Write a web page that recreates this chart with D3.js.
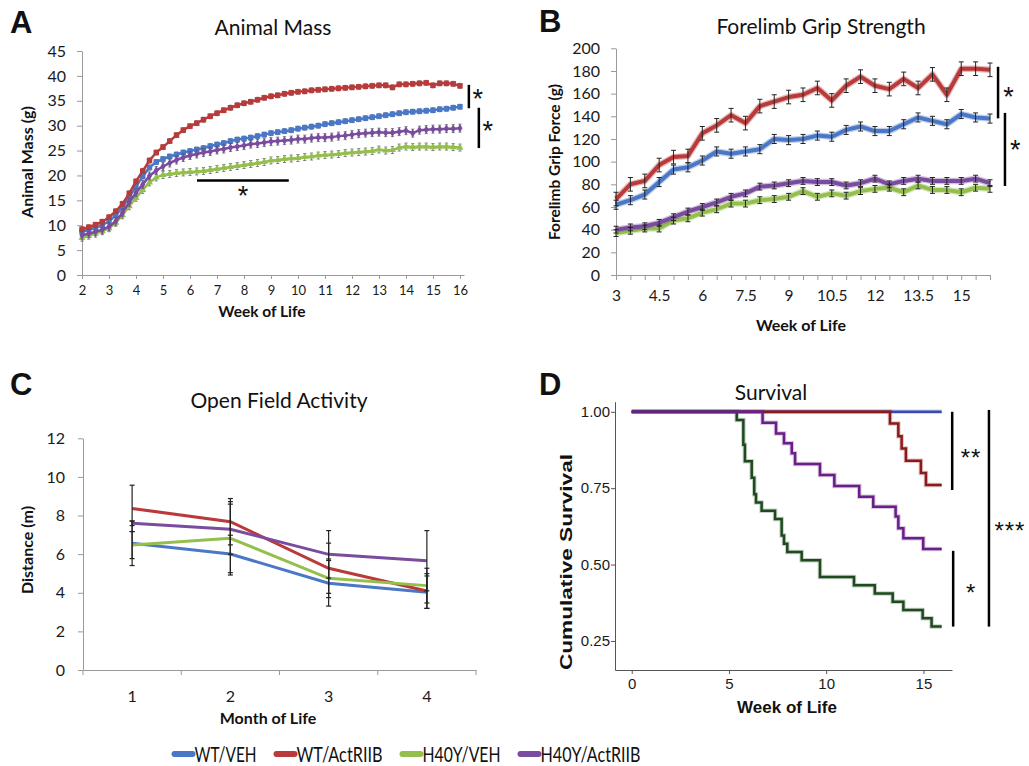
<!DOCTYPE html>
<html><head><meta charset="utf-8">
<script src="https://cdn.jsdelivr.net/npm/d3@7"></script>
<style>
body{margin:0;background:#fff;}
svg{display:block;}
</style></head><body>
<svg id="c" width="1029" height="766"></svg>
<script>
// ---------------- DATA ----------------
const seriesNames = ["WT/VEH", "WT/ActRIIB", "H40Y/VEH", "H40Y/ActRIIB"];
const seriesColors = ["#4A78C6", "#B93A3A", "#95BF4D", "#7A4C9F"];

// Panel A: Animal Mass (g), weeks 2..16 every 0.25 week
const weeksA = d3.range(2, 16.001, 0.25);
const massBlue = [8.7,9.1,9.5,10.0,10.8,12.0,13.6,15.6,17.8,19.8,21.6,22.7,23.3,23.8,24.2,24.6,24.9,25.2,25.5,25.9,26.2,26.5,26.9,27.2,27.4,27.6,27.9,28.2,28.5,28.7,28.9,29.1,29.4,29.6,29.8,30.0,30.3,30.5,30.7,30.9,31.1,31.3,31.5,31.7,31.9,32.1,32.3,32.5,32.7,32.8,32.9,33.0,33.1,33.3,33.4,33.6,33.8];
const massRed = [9.2,9.6,10.1,10.7,11.6,12.8,14.3,16.4,18.8,20.9,23.0,24.6,25.7,26.9,28.1,29.1,29.9,30.5,31.2,31.9,32.5,33.1,33.6,34.1,34.5,34.8,35.2,35.6,35.9,36.1,36.4,36.6,36.8,36.9,37.1,37.2,37.3,37.4,37.5,37.6,37.7,37.8,37.9,38.0,38.1,38.1,37.7,38.3,38.3,38.4,38.5,38.6,38.1,38.5,38.5,38.4,38.0];
const massGreen = [7.5,7.9,8.3,8.8,9.4,10.5,12.0,13.8,15.5,17.1,18.6,19.6,20.1,20.3,20.5,20.6,20.7,20.8,20.9,21.1,21.3,21.5,21.7,21.9,22.1,22.3,22.5,22.7,23.0,23.1,23.3,23.4,23.5,23.7,23.8,24.0,24.1,24.2,24.3,24.5,24.6,24.7,24.8,24.9,25.2,25.0,25.1,25.6,25.8,25.7,25.8,25.8,25.7,25.8,25.8,25.7,25.6];
const massPurple = [8.0,8.3,8.7,9.1,9.7,10.8,12.5,14.6,16.5,18.2,19.9,21.0,21.8,22.5,23.1,23.6,24.0,24.3,24.6,24.8,25.1,25.3,25.6,25.8,26.0,26.3,26.4,26.6,26.8,26.9,27.0,27.1,27.3,27.3,27.5,27.6,27.6,27.7,27.9,28.0,28.2,28.4,28.5,28.6,28.7,28.6,28.6,28.8,29.0,28.5,29.1,29.2,29.3,29.3,29.4,29.4,29.5];
const massErr = [0.5, 0.5, 0.7, 0.8];
const ticksA_x = [2,3,4,5,6,7,8,9,10,11,12,13,14,15,16];
const ticksA_y = [0,5,10,15,20,25,30,35,40,45];

// Panel B: Forelimb Grip Force (g), weeks 3..16 every 0.5
const weeksB = [3,3.5,4,4.5,5,5.5,6,6.5,7,7.5,8,8.5,9,9.5,10,10.5,11,11.5,12,12.5,13,13.5,14,14.5,15,15.5,16];
const gripBlue = [62,66,71,82,93,95,101,109,107,109,111,120,119,120,123,122,128,131,127,127,133,139,136,133,142,139,138];
const gripRed = [67,80,83,97,104,105,125,132,141,134,149,153,157,159,165,154,167,175,167,164,173,165,177,159,182,182,181];
const gripGreen = [37,39,41,41,48,50,55,58,63,63,66,67,69,74,69,72,70,74,76,77,73,79,75,75,73,77,76];
const gripPurple = [40,42,43,46,51,56,60,64,69,72,78,79,81,83,82,82,79,81,85,80,83,85,83,83,83,85,81];
const gripErr = [4, 6, 3, 3];
const ticksB_label = [3,4.5,6,7.5,9,10.5,12,13.5,15];
const ticksB_y = [0,20,40,60,80,100,120,140,160,180,200];

// Panel C: Open Field Activity, distance (m) per month
const months = [1,2,3,4];
const distBlue = [6.56,6.01,4.49,4.03];
const distRed = [8.37,7.68,5.27,4.09];
const distGreen = [6.47,6.82,4.75,4.37];
const distPurple = [7.60,7.29,5.99,5.66];
const distErrBlue = [1.15,0.97,1.18,0.84];
const distErrRed = [1.20,1.20,1.30,0.90];
const distErrGreen = [0.70,1.90,1.00,0.90];
const distErrPurple = [0.12,1.30,1.23,1.56];
const ticksC_y = [0,2,4,6,8,10,12];

// Panel D: Survival (Kaplan-Meier)
const survTimesBlue = [0,15.94];
const survBlue = [1,1];
const survTimesRed = [0,13.28,13.71,13.88,14.10,14.87,15.13,15.94];
const survRed = [1,0.962,0.92,0.88,0.84,0.80,0.76,0.76];
const survTimesGreen = [0,5.40,5.74,5.82,6.17,6.30,6.39,6.68,7.37,7.71,7.83,8.00,8.74,9.68,11.43,12.50,13.42,13.97,14.96,15.42,15.94];
const survGreen = [1,0.973,0.892,0.838,0.784,0.730,0.703,0.676,0.649,0.595,0.568,0.541,0.514,0.459,0.432,0.405,0.378,0.351,0.324,0.297,0.297];
const survTimesPurple = [0,6.73,7.42,7.83,8.23,8.40,9.68,10.42,11.70,12.42,13.57,13.71,13.97,14.99,15.94];
const survPurple = [1,0.964,0.929,0.897,0.864,0.829,0.793,0.757,0.722,0.689,0.657,0.619,0.586,0.551,0.551];
const survColors = ["#3B4BB0", "#8B1A1A", "#1F4A1F", "#6A1E88"];
const ticksD_x = [0,5,10,15];
const ticksD_y = [0.25,0.50,0.75,1.00];

// ---------------- DRAW ----------------
const svg = d3.select("#c");
const FONT = "Lato, 'Open Sans', sans-serif";
const ARIAL = "'Liberation Sans', Arial, sans-serif";
const AX = "#9a9a9a";

function styleAxis(g, color, fam, size) {
  g.select(".domain").attr("stroke", color).attr("stroke-width", 1);
  g.selectAll(".tick line").attr("stroke", color);
  g.selectAll(".tick text").attr("fill", "#1a1a1a").style("font-family", fam).style("font-size", size + "px");
}
function txt(x, y, s, opts) {
  const t = svg.append("text").attr("x", x).attr("y", y).text(s)
    .style("font-family", opts.fam || FONT).style("font-size", (opts.size || 16) + "px")
    .style("font-weight", opts.bold ? "bold" : "normal")
    .attr("text-anchor", opts.anchor || "middle").attr("fill", opts.fill || "#111");
  if (opts.rot) t.attr("transform", `rotate(-90,${x},${y})`);
  if (opts.len) t.attr("textLength", opts.len).attr("lengthAdjust", "spacingAndGlyphs");
  if (opts.ls) t.style("letter-spacing", opts.ls + "px");
  return t;
}

// panel letters
txt(10, 33, "A", {fam: ARIAL, size: 31, bold: true, anchor: "start"});
txt(539, 32, "B", {fam: ARIAL, size: 31, bold: true, anchor: "start"});
txt(10, 395, "C", {fam: ARIAL, size: 31, bold: true, anchor: "start"});
txt(539, 395, "D", {fam: ARIAL, size: 31, bold: true, anchor: "start"});

// ===== Panel A =====
{
  const x = d3.scaleLinear().domain([2, 16.15]).range([82, 464]);
  const y = d3.scaleLinear().domain([0, 45]).range([275, 51]);
  svg.append("g").attr("transform", "translate(0,275)")
    .call(d3.axisBottom(x).tickValues(ticksA_x).tickSize(4).tickSizeOuter(0).tickPadding(7).tickFormat(d3.format("d")))
    .call(styleAxis, AX, FONT, 13);
  svg.append("g").attr("transform", "translate(82,0)")
    .call(d3.axisLeft(y).tickValues(ticksA_y).tickSize(5).tickSizeOuter(0).tickPadding(11))
    .call(styleAxis, AX, FONT, 16);
  txt(273, 35, "Animal Mass", {size: 21});
  txt(33, 162, "Animal Mass (g)", {size: 16, bold: true, rot: true});
  txt(262, 317, "Week of Life", {size: 15.5, bold: true});

  const series = [
    {v: massBlue, c: seriesColors[0], sym: d3.symbolSquare, s: 30, e: massErr[0]},
    {v: massRed, c: seriesColors[1], sym: d3.symbolSquare, s: 30, e: massErr[1]},
    {v: massGreen, c: seriesColors[2], sym: d3.symbolTriangle, s: 22, e: massErr[2]},
    {v: massPurple, c: seriesColors[3], sym: d3.symbolDiamond, s: 22, e: massErr[3]},
  ];
  const line = d3.line().x((d, i) => x(weeksA[i])).y(d => y(d));
  series.forEach(sr => {
    const g = svg.append("g");
    const eb = g.selectAll(".eb").data(sr.v).enter().append("g");
    eb.append("line").attr("x1", (d, i) => x(weeksA[i])).attr("x2", (d, i) => x(weeksA[i]))
      .attr("y1", d => y(d - sr.e)).attr("y2", d => y(d + sr.e)).attr("stroke", "#555").attr("stroke-width", 0.7);
    [-1, 1].forEach(k => eb.append("line").attr("x1", (d, i) => x(weeksA[i]) - 1.6).attr("x2", (d, i) => x(weeksA[i]) + 1.6)
      .attr("y1", d => y(d + k * sr.e)).attr("y2", d => y(d + k * sr.e)).attr("stroke", "#555").attr("stroke-width", 0.7));
    g.append("path").datum(sr.v).attr("d", line).attr("fill", "none").attr("stroke", sr.c).attr("stroke-width", 2.5);
    g.selectAll(".m").data(sr.v).enter().append("path")
      .attr("transform", (d, i) => `translate(${x(weeksA[i])},${y(d)})`)
      .attr("d", d3.symbol().type(sr.sym).size(sr.s)).attr("fill", sr.c);
  });
  const sig = [{x: 16.33, y0: 38.2, y1: 33.5, lx: 16.66, ly: 35.9}, {x: 16.7, y0: 33.6, y1: 25.5, lx: 17.03, ly: 29.6}];
  sig.forEach(s => {
    svg.append("line").attr("x1", x(s.x)).attr("x2", x(s.x)).attr("y1", y(s.y0)).attr("y2", y(s.y1)).attr("stroke", "#000").attr("stroke-width", 2.5);
    txt(x(s.lx), y(s.ly) + 12, "*", {fam: ARIAL, size: 27});
  });
  svg.append("line").attr("x1", x(6.26)).attr("x2", x(9.66)).attr("y1", y(19)).attr("y2", y(19)).attr("stroke", "#000").attr("stroke-width", 2.5);
  txt(x(7.96), y(16.5) + 12, "*", {fam: ARIAL, size: 27});
}

// ===== Panel B =====
{
  const x = d3.scaleLinear().domain([3, 16]).range([616, 990]);
  const y = d3.scaleLinear().domain([0, 200]).range([275, 48.3]);
  svg.append("g").attr("transform", "translate(0,275)")
    .call(d3.axisBottom(x).tickValues(weeksB).tickSize(5).tickSizeOuter(0).tickPadding(10)
      .tickFormat(d => ticksB_label.includes(d) ? d3.format("")(d) : ""))
    .call(styleAxis, AX, FONT, 15.5);
  svg.append("g").attr("transform", "translate(616,0)")
    .call(d3.axisLeft(y).tickValues(ticksB_y).tickSize(5).tickSizeOuter(0).tickPadding(11))
    .call(styleAxis, AX, FONT, 16);
  txt(821, 34, "Forelimb Grip Strength", {size: 21});
  txt(560, 162, "Forelimb Grip Force (g)", {size: 15.5, bold: true, rot: true});
  txt(801, 331, "Week of Life", {size: 16, bold: true});

  const series = [gripBlue, gripRed, gripGreen, gripPurple];
  const line = d3.line().x((d, i) => x(weeksB[i])).y(d => y(d));
  series.forEach((v, si) => {
    svg.append("path").datum(v).attr("d", line).attr("fill", "none").attr("stroke", seriesColors[si])
      .attr("stroke-opacity", 0.35).attr("stroke-width", 6.5).attr("stroke-linejoin", "round");
    svg.append("path").datum(v).attr("d", line).attr("fill", "none").attr("stroke", seriesColors[si])
      .attr("stroke-width", 4).attr("stroke-linejoin", "round");
  });
  series.forEach((v, si) => {
    const e = gripErr[si];
    const g = svg.append("g");
    const eb = g.selectAll("g").data(v).enter().append("g");
    eb.append("line").attr("x1", (d, i) => x(weeksB[i])).attr("x2", (d, i) => x(weeksB[i]))
      .attr("y1", d => y(d - e)).attr("y2", d => y(d + e)).attr("stroke", "#222").attr("stroke-width", 1);
    [-1, 1].forEach(k => eb.append("line").attr("x1", (d, i) => x(weeksB[i]) - 2.5).attr("x2", (d, i) => x(weeksB[i]) + 2.5)
      .attr("y1", d => y(d + k * e)).attr("y2", d => y(d + k * e)).attr("stroke", "#222").attr("stroke-width", 1));
  });
  const sig = [{x: 16.28, y0: 183.7, y1: 138.2, lx: 16.64, ly: 160}, {x: 16.52, y0: 143, y1: 78.5, lx: 16.88, ly: 113}];
  sig.forEach(s => {
    svg.append("line").attr("x1", x(s.x)).attr("x2", x(s.x)).attr("y1", y(s.y0)).attr("y2", y(s.y1)).attr("stroke", "#000").attr("stroke-width", 2.5);
    txt(x(s.lx), y(s.ly) + 12, "*", {fam: ARIAL, size: 27});
  });
}

// ===== Panel C =====
{
  const x = d3.scaleBand().domain(months).range([83, 476]);
  const y = d3.scaleLinear().domain([0, 12]).range([670, 438.3]);
  const cx = m => x(m) + x.bandwidth() / 2;
  const gx = svg.append("g").attr("transform", "translate(0,670)")
    .call(d3.axisBottom(x).tickSize(0).tickPadding(21).tickSizeOuter(0))
    .call(styleAxis, AX, FONT, 16);
  const bounds = months.map(m => x(m)).concat([x.range()[1]]);
  gx.selectAll(".bt").data(bounds).enter().append("line").attr("x1", d => d).attr("x2", d => d)
    .attr("y1", 0).attr("y2", 5).attr("stroke", AX);
  svg.append("g").attr("transform", "translate(83,0)")
    .call(d3.axisLeft(y).tickValues(ticksC_y).tickSize(5).tickSizeOuter(0).tickPadding(13))
    .call(styleAxis, AX, FONT, 16);
  txt(279, 408, "Open Field Activity", {size: 21});
  txt(33, 550, "Distance (m)", {size: 16, bold: true, rot: true});
  txt(268, 724, "Month of Life", {size: 16, bold: true});

  const series = [distBlue, distRed, distGreen, distPurple];
  const errs = [distErrBlue, distErrRed, distErrGreen, distErrPurple];
  const line = d3.line().x((d, i) => cx(months[i])).y(d => y(d));
  series.forEach((v, si) => {
    svg.append("path").datum(v).attr("d", line).attr("fill", "none").attr("stroke", seriesColors[si]).attr("stroke-width", 3);
  });
  series.forEach((v, si) => {
    const e = errs[si];
    v.forEach((d, i) => {
      const xx = cx(months[i]);
      svg.append("line").attr("x1", xx).attr("x2", xx).attr("y1", y(d - e[i])).attr("y2", y(d + e[i])).attr("stroke", "#222").attr("stroke-width", 1.2);
      [-1, 1].forEach(k => svg.append("line").attr("x1", xx - 2.5).attr("x2", xx + 2.5)
        .attr("y1", y(d + k * e[i])).attr("y2", y(d + k * e[i])).attr("stroke", "#222").attr("stroke-width", 1.2));
    });
  });
}

// ===== Panel D =====
{
  const x = d3.scaleLinear().domain([-0.86, 16.47]).range([615, 952]);
  const y = d3.scaleLinear().domain([0.155, 1.033]).range([670, 401.7]);
  svg.append("g").attr("transform", "translate(0,670)")
    .call(d3.axisBottom(x).tickValues(ticksD_x).tickSize(4).tickSizeOuter(0).tickPadding(4))
    .call(styleAxis, "#555", ARIAL, 15);
  svg.append("g").attr("transform", "translate(615,0)")
    .call(d3.axisLeft(y).tickValues(ticksD_y).tickSize(4).tickSizeOuter(0).tickPadding(1).tickFormat(d3.format(".2f")))
    .call(styleAxis, "#555", ARIAL, 15);
  txt(771, 400, "Survival", {size: 21});
  txt(572, 562, "Cumulative Survival", {fam: ARIAL, size: 16, bold: true, rot: true, len: 216});
  txt(787, 713, "Week of Life", {fam: ARIAL, size: 17, bold: true});

  const curves = [
    [survTimesBlue, survBlue], [survTimesRed, survRed], [survTimesGreen, survGreen], [survTimesPurple, survPurple]
  ];
  const line = d3.line().curve(d3.curveStepAfter);
  curves.forEach(([t, s], ci) => {
    const pts = t.map((tt, i) => [x(tt), y(s[i])]);
    svg.append("path").attr("d", line(pts)).attr("fill", "none").attr("stroke", survColors[ci])
      .attr("stroke-opacity", 0.25).attr("stroke-width", 4.5);
    svg.append("path").attr("d", line(pts)).attr("fill", "none").attr("stroke", survColors[ci]).attr("stroke-width", 2.5);
  });
  const sig = [
    {x: 16.48, y0: 1.0, y1: 0.744, lx: 17.45, ly: 0.858, s: "**"},
    {x: 16.53, y0: 0.545, y1: 0.297, lx: 17.45, ly: 0.417, s: "*"},
    {x: 18.37, y0: 1.006, y1: 0.297, lx: 19.45, ly: 0.62, s: "***"},
  ];
  sig.forEach(s => {
    svg.append("line").attr("x1", x(s.x)).attr("x2", x(s.x)).attr("y1", y(s.y0)).attr("y2", y(s.y1)).attr("stroke", "#000").attr("stroke-width", 2.5);
    txt(x(s.lx), y(s.ly) + 11, s.s, {fam: ARIAL, size: 24, ls: 1});
  });
}

// ===== Legend =====
{
  const gL = svg.append("g");
  const textWidths = [62, 86, 78, 100];
  const items = [];
  seriesNames.forEach((n, i) => {
    const g = gL.append("g");
    g.append("line").attr("x1", 3).attr("x2", 21).attr("y1", 0).attr("y2", 0)
      .attr("stroke", seriesColors[i]).attr("stroke-width", 6).attr("stroke-linecap", "round");
    const t = g.append("text").attr("x", 23).attr("y", 8).text(n)
      .style("font-family", FONT).style("font-size", "21px").attr("fill", "#111");
    const nat = t.node().getComputedTextLength();
    if (nat > textWidths[i]) t.attr("textLength", textWidths[i]).attr("lengthAdjust", "spacingAndGlyphs");
    const w = 23 + Math.min(nat, textWidths[i]);
    items.push({g, w});
  });
  const gap = 17;
  const total = d3.sum(items, d => d.w) + gap * (items.length - 1);
  let xpos = 406 - total / 2;
  items.forEach(it => { it.g.attr("transform", `translate(${xpos},754)`); xpos += it.w + gap; });
}
</script>
</body></html>
